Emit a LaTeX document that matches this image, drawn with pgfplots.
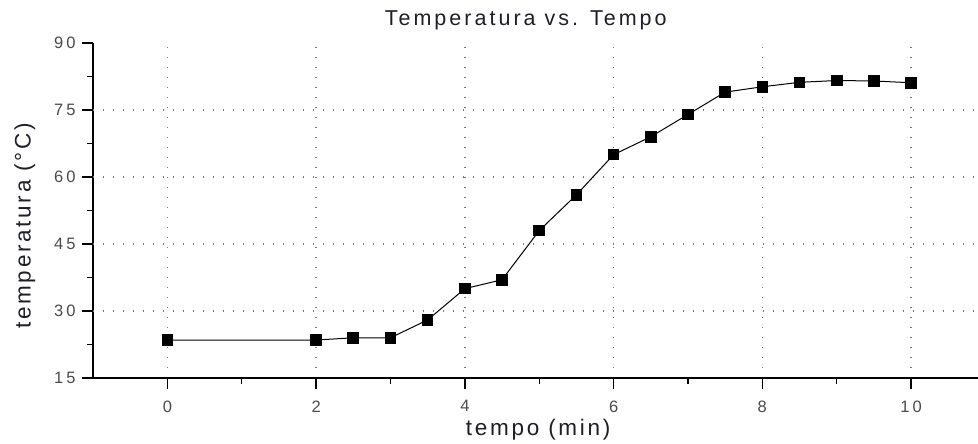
\documentclass[border=0pt]{standalone}
\usepackage{fontspec}
\setmainfont{Liberation Sans}
\newfontfamily\spaced[LetterSpace=12]{Liberation Sans}
\newfontfamily\tickfont[LetterSpace=18]{Liberation Sans}
\newfontfamily\titlefont[LetterSpace=14]{Liberation Sans}
\usepackage{pgfplots}
\pgfplotsset{compat=1.18}
\usetikzlibrary{calc}
\definecolor{ticktxt}{HTML}{4A4A4A}
\definecolor{labtxt}{HTML}{1E1E2A}
\definecolor{gridcol}{HTML}{7A7A7A}
\begin{document}
\begin{tikzpicture}
\begin{axis}[
  scale only axis,
  width=885pt, height=335pt,
  xmin=-1, xmax=10.9,
  ymin=15, ymax=90,
  axis x line*=bottom, axis y line*=left,
  axis line style={line width=1.4pt, -},
  xtick={0,2,...,10}, ytick={15,30,...,90},
  minor x tick num=1, minor y tick num=1,
  tick align=outside,
  major tick length=11pt, minor tick length=6pt,
  tick style={line width=1.4pt, black},
  xmajorgrids=true,
  extra y ticks={30,45,60,75},
  extra y tick labels={},
  extra y tick style={ymajorgrids=true},
  major grid style={gridcol, line width=1.3pt, dash pattern=on 1.3pt off 8.7pt},
  ticklabel style={font=\fontsize{16.5}{18}\tickfont, text=ticktxt},
  /pgf/number format/assume math mode=true,
  xticklabel style={yshift=-8pt},
  yticklabel style={xshift=-3pt},
  title={Temperatura vs. Tempo},
  title style={font=\fontsize{21.5}{24}\titlefont, text=labtxt,
    at={(axis description cs:0.489,1.051)}, anchor=center},
  xlabel={tempo (min)},
  ylabel={temperatura (°C)},
  label style={font=\fontsize{22.5}{26}\spaced, text=labtxt},
  xlabel style={at={(axis description cs:0.503,-0.155)}, anchor=center},
  ylabel style={at={(axis description cs:-0.077,0.454)}, anchor=center},
  clip=false,
]
\addplot[black, line width=1pt, mark=square*, mark size=5.3pt, mark options={solid}]
coordinates {
(0,23.5)(2,23.5)(2.5,24)(3,24)(3.5,28)(4,35)(4.5,37)(5,48)(5.5,56)(6,65)
(6.5,69)(7,74)(7.5,79)(8,80.2)(8.5,81.2)(9,81.6)(9.5,81.5)(10,81.1)
};
\end{axis}
\pgfresetboundingbox
\path ($(current axis.south west)+(-93pt,-66pt)$) rectangle ($(current axis.south west)+(885pt,378pt)$);
\end{tikzpicture}
\end{document}
